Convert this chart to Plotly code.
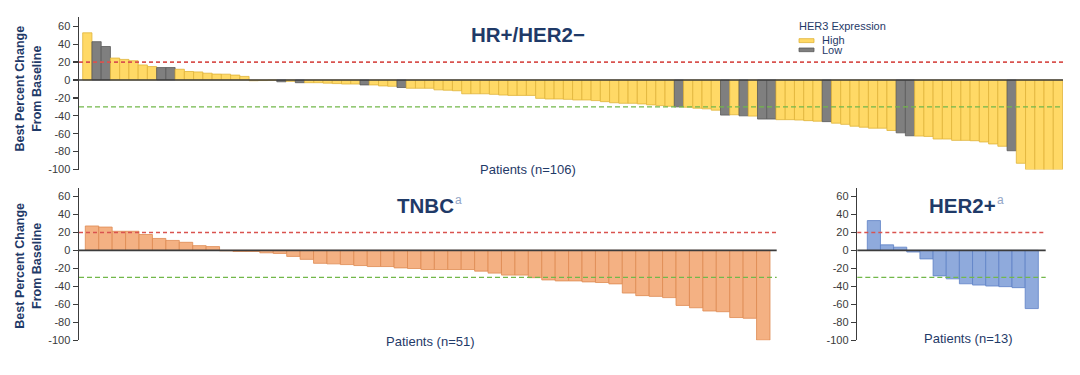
import plotly.graph_objects as go

# ---------------- data ----------------
hr_values = [52.7, 42.8, 37.4, 24.5, 23.0, 21.5, 16.8, 15.0, 13.9, 13.9,
             12.0, 9.5, 9.0, 7.6, 6.6, 6.5, 5.5, 4.0, -0.8, -0.6,
             -0.3, -2.0, -1.5, -3.0, -3.0, -3.0, -3.5, -4.0, -4.5, -4.5,
             -5.5, -5.5, -6.6, -7.0, -8.4, -9.2, -9.2, -9.2, -11.0, -11.4,
             -12.0, -15.4, -15.4, -15.4, -16.0, -16.8, -17.2, -17.2, -17.2, -20.5,
             -21.2, -21.2, -21.6, -22.3, -22.3, -23.0, -24.2, -25.4, -26.0, -26.0,
             -26.7, -27.8, -28.6, -29.3, -30.0, -30.4, -31.5, -32.2, -33.7, -39.2,
             -38.8, -40.0, -40.3, -43.6, -43.6, -44.3, -44.3, -44.7, -45.4, -46.0,
             -46.5, -48.2, -49.5, -51.6, -52.7, -53.8, -53.8, -56.4, -59.0, -62.3,
             -62.6, -63.0, -65.9, -65.9, -67.4, -67.4, -67.8, -69.2, -71.4, -74.0,
             -79.0, -93.0, -100.0, -100.0, -100.0, -100.0]
hr_her3 = ["High"] * 106
for i in [2, 3, 9, 10, 22, 24, 31, 35, 65, 70, 72, 74, 75, 81, 89, 90, 101]:
    hr_her3[i - 1] = "Low"

tnbc_values = [27.2, 26.0, 21.3, 21.3, 17.7, 13.3, 11.1, 9.0, 5.3, 4.2,
               -0.5, -1.2, -1.2, -2.7, -3.4, -6.7, -10.0, -14.4, -15.0, -15.8,
               -16.9, -18.0, -18.0, -19.5, -20.2, -21.3, -21.3, -21.3, -21.3, -23.1,
               -25.3, -27.5, -27.5, -30.4, -32.9, -34.0, -34.0, -35.1, -35.8, -37.3,
               -47.5, -50.4, -51.2, -52.6, -61.3, -63.9, -67.5, -68.3, -74.8, -75.6,
               -100.0]

her2_values = [33.2, 6.2, 3.6, -1.8, -9.5, -28.4, -31.7, -37.2, -38.6, -39.7,
               -40.4, -41.5, -64.8]

y_ticks = [60, 40, 20, 0, -20, -40, -60, -80, -100]
pd_threshold = 20
pr_threshold = -30

# ---------------- style ----------------
FONT = "Liberation Sans, Arial, sans-serif"
NAVY = "#1F3A68"
TICK_COLOR = "#3A3A3A"
AXIS_COLOR = "#3C3C3C"
YELLOW, YELLOW_LINE = "#FFD966", "#E0B43A"
GRAY, GRAY_LINE = "#7F7F7F", "#5A5A5A"
ORANGE, ORANGE_LINE = "#F4B183", "#DE8A52"
BLUE, BLUE_LINE = "#8FAADC", "#5E82C6"
RED_DASH = "#D9534F"
GREEN_DASH = "#72B84A"
SUP_COLOR = "#93A5C6"

W, H = 1080, 375


def px_x(p):
    return p / W


def px_y(p):
    return 1 - p / H


fig = go.Figure()

# HR+/HER2- bars
fig.add_trace(go.Bar(
    x=list(range(len(hr_values))), y=hr_values,
    marker=dict(color=[YELLOW if h == "High" else GRAY for h in hr_her3],
                line=dict(color=[YELLOW_LINE if h == "High" else GRAY_LINE for h in hr_her3],
                          width=0.8)),
    xaxis="x", yaxis="y", showlegend=False, hoverinfo="skip"))

# TNBC bars
fig.add_trace(go.Bar(
    x=list(range(len(tnbc_values))), y=tnbc_values,
    marker=dict(color=ORANGE, line=dict(color=ORANGE_LINE, width=0.8)),
    xaxis="x2", yaxis="y2", showlegend=False, hoverinfo="skip"))

# HER2+ bars
fig.add_trace(go.Bar(
    x=list(range(len(her2_values))), y=her2_values,
    marker=dict(color=BLUE, line=dict(color=BLUE_LINE, width=0.8)),
    xaxis="x3", yaxis="y3", showlegend=False, hoverinfo="skip"))

yaxis_common = dict(range=[-100, 70], tickvals=y_ticks, ticktext=[str(v) for v in y_ticks],
                    showgrid=False, zeroline=False, showline=True, linecolor=AXIS_COLOR,
                    linewidth=1.5, ticks="outside", ticklen=5, tickwidth=1.2,
                    tickcolor=AXIS_COLOR, tickfont=dict(family=FONT, size=11, color=TICK_COLOR),
                    fixedrange=True)
xaxis_common = dict(showgrid=False, zeroline=False, showline=False, showticklabels=False,
                    ticks="", fixedrange=True)

fig.update_layout(
    width=W, height=H,
    margin=dict(l=0, r=0, t=0, b=0),
    paper_bgcolor="white", plot_bgcolor="white",
    bargap=0,
    xaxis=dict(xaxis_common, domain=[px_x(79), px_x(1063)], range=[-0.9, 105.55], anchor="y"),
    yaxis=dict(yaxis_common, domain=[px_y(172.3), px_y(17.6)], anchor="x"),
    xaxis2=dict(xaxis_common, domain=[px_x(79), px_x(776.7)], range=[-0.97, 51.0], anchor="y2"),
    yaxis2=dict(yaxis_common, domain=[px_y(345.7), px_y(190.6)], anchor="x2"),
    xaxis3=dict(xaxis_common, domain=[px_x(857.3), px_x(1045.7)], range=[-1.26, 13.06], anchor="y3"),
    yaxis3=dict(yaxis_common, domain=[px_y(345.7), px_y(190.6)], anchor="x3"),
)

shapes = []
for xa, ya in [("x", "y"), ("x2", "y2"), ("x3", "y3")]:
    shapes.append(dict(type="line", xref=f"{xa} domain", yref=ya, x0=0, x1=1,
                       y0=pd_threshold, y1=pd_threshold,
                       line=dict(color=RED_DASH, width=1.6, dash="4px,3px"), layer="above"))
    shapes.append(dict(type="line", xref=f"{xa} domain", yref=ya, x0=0, x1=1,
                       y0=pr_threshold, y1=pr_threshold,
                       line=dict(color=GREEN_DASH, width=1.1, dash="5px,3px"), layer="above"))
    shapes.append(dict(type="line", xref=f"{xa} domain", yref=ya, x0=0, x1=1,
                       y0=0, y1=0, line=dict(color=AXIS_COLOR, width=1.6), layer="above"))

# legend swatches
shapes.append(dict(type="rect", xref="paper", yref="paper",
                   x0=px_x(799), x1=px_x(814), y0=px_y(43.3), y1=px_y(39.3),
                   fillcolor=YELLOW, line=dict(color=YELLOW_LINE, width=0.8)))
shapes.append(dict(type="rect", xref="paper", yref="paper",
                   x0=px_x(799), x1=px_x(814), y0=px_y(52.5), y1=px_y(48.8),
                   fillcolor=GRAY, line=dict(color=GRAY_LINE, width=0.8)))
fig.update_layout(shapes=shapes)

ann = []


def add_text(text, x, y, size, color=NAVY, angle=0, xanchor="center"):
    ann.append(dict(text=text, x=px_x(x), y=px_y(y), xref="paper", yref="paper",
                    showarrow=False, textangle=angle, xanchor=xanchor, yanchor="middle",
                    font=dict(family=FONT, size=size, color=color)))


add_text("<b>HR+/HER2−</b>", 528, 35, 20.5)
add_text("<b>TNBC</b>", 425, 209, 20.5)
add_text("a", 453, 203, 12, color=SUP_COLOR, xanchor="left")
add_text("<b>HER2+</b>", 962.5, 209, 20.5)
add_text("a", 995, 203, 12, color=SUP_COLOR, xanchor="left")

add_text("Patients (n=106)", 528, 172, 13)
add_text("Patients (n=51)", 430, 347, 13)
add_text("Patients (n=13)", 968, 344, 13)

add_text("<b>Best Percent Change<br>From Baseline</b>", 28, 90, 12.5, angle=-90)
add_text("<b>Best Percent Change<br>From Baseline</b>", 28, 270, 12.5, angle=-90)

add_text("HER3 Expression", 797, 26, 11, xanchor="left")
add_text("High", 820, 41, 11, xanchor="left")
add_text("Low", 820, 50.5, 11, xanchor="left")

fig.update_layout(annotations=ann)

fig.write_html("out.html",
               config={"displayModeBar": False, "staticPlot": True},
               post_script="document.body.style.margin='0';document.body.style.padding='0';")
